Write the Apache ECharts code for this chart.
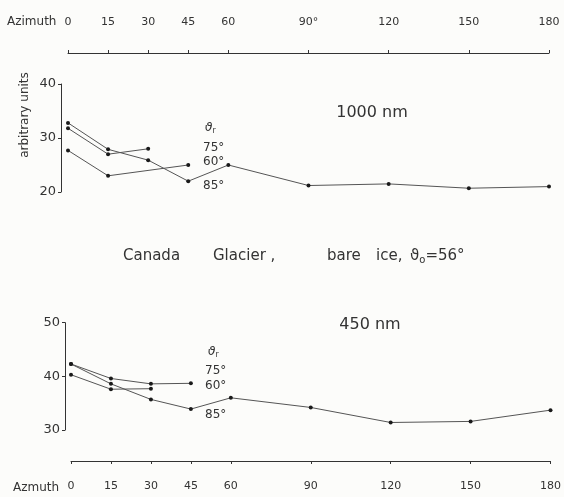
<!DOCTYPE html>
<html><head><meta charset="utf-8">
<script src="https://cdn.jsdelivr.net/npm/echarts@6/dist/echarts.min.js"></script>
<style>html,body{margin:0;padding:0;background:#fcfcfa}#c{width:564px;height:497px}</style>
</head><body><div id="c"></div>
<script>
// ---- data ----
const azimuthTicks = [0, 15, 30, 45, 60, 90, 120, 150, 180];
const topTickLabels = ['0', '15', '30', '45', '60', '90°', '120', '150', '180'];
const bottomTickLabels = ['0', '15', '30', '45', '60', '90', '120', '150', '180'];
const az85 = [0, 15, 30, 45, 60, 90, 120, 150, 180];
const az75 = [0, 15, 30];
const az60Top = [0, 15, 45];
const az60Bottom = [0, 15, 30, 45];
const nm1000_85 = [32.8, 27.9, 25.9, 22.0, 25.0, 21.2, 21.5, 20.7, 21.0];
const nm1000_75 = [31.8, 27.0, 28.0];
const nm1000_60 = [27.7, 23.0, 25.0];
const nm450_85 = [42.3, 38.6, 35.7, 33.9, 36.0, 34.2, 31.4, 31.6, 33.7];
const nm450_75 = [40.3, 37.6, 37.7];
const nm450_60 = [42.3, 39.6, 38.6, 38.7];
const thetaLabels = ['75°', '60°', '85°'];

const ink = '#333';
const lineInk = '#555';
const FONT = 'DejaVu Sans';
const pairs = (xs, ys) => xs.map((x, i) => [x, ys[i]]);

function lineSeries(name, xs, ys, gi) {
  return {
    name, type: 'line', xAxisIndex: gi, yAxisIndex: gi,
    data: pairs(xs, ys), symbol: 'circle', symbolSize: 4, showSymbol: true,
    itemStyle: { color: '#1a1a1a' },
    lineStyle: { color: lineInk, width: 1 },
    silent: true
  };
}

function xAxisCfg(gi, pos, labels, margin) {
  return {
    type: 'value', gridIndex: gi, position: pos, offset: 31, min: 0, max: 180,
    axisLine: { show: true, onZero: false, lineStyle: { color: ink, width: 1 } },
    axisTick: { show: true, length: 3, customValues: azimuthTicks, lineStyle: { color: ink } },
    axisLabel: {
      customValues: azimuthTicks, margin, color: ink, fontFamily: FONT, fontSize: 11,
      formatter: v => labels[azimuthTicks.indexOf(v)]
    },
    splitLine: { show: false }
  };
}
function yAxisCfg(gi, min, max, off) {
  return {
    type: 'value', gridIndex: gi, min, max, interval: 10, offset: off, position: 'left',
    axisLine: { show: true, onZero: false, lineStyle: { color: ink, width: 1 } },
    axisTick: { show: true, length: 3, lineStyle: { color: ink } },
    axisLabel: { color: ink, fontFamily: FONT, fontSize: 13, margin: 5 },
    splitLine: { show: false }
  };
}

function txt(text, x, y, size, align) {
  return { type: 'text', x, y, style: { text, font: size + 'px "' + FONT + '"', fill: ink, textAlign: align || 'left', textVerticalAlign: 'middle' } };
}
function theta(x, y) {
  return { type: 'text', x, y, style: {
    text: '{a|ϑ}{s|r}', textAlign: 'left', textVerticalAlign: 'middle',
    rich: { a: { fontFamily: FONT, fontSize: 12, fill: ink, fontStyle: 'italic' }, s: { fontFamily: FONT, fontSize: 8, fill: ink, verticalAlign: 'bottom', padding: [6, 0, 0, 0] } }
  } };
}

const chart = echarts.init(document.getElementById('c'), null, { renderer: 'canvas' });
chart.setOption({
  animation: false,
  backgroundColor: '#fcfcfa',
  grid: [
    { left: 68, right: 15, top: 84, height: 108 },
    { left: 71, right: 8.5, top: 322.7, height: 107.3 }
  ],
  xAxis: [xAxisCfg(0, 'top', topTickLabels, 25), xAxisCfg(1, 'bottom', bottomTickLabels, 20)],
  yAxis: [yAxisCfg(0, 20, 40, 7), yAxisCfg(1, 30, 50, 6)],
  series: [
    lineSeries('1000 nm 85°', az85, nm1000_85, 0),
    lineSeries('1000 nm 75°', az75, nm1000_75, 0),
    lineSeries('1000 nm 60°', az60Top, nm1000_60, 0),
    lineSeries('450 nm 85°', az85, nm450_85, 1),
    lineSeries('450 nm 75°', az75, nm450_75, 1),
    lineSeries('450 nm 60°', az60Bottom, nm450_60, 1)
  ],
  graphic: [
    txt('Azimuth', 7, 22, 12),
    txt('Azmuth', 13, 488, 12),
    { type: 'text', x: 25, y: 115, rotation: Math.PI / 2, style: { text: 'arbitrary units', font: '12px "' + FONT + '"', fill: ink, textAlign: 'center', textVerticalAlign: 'middle' } },
    txt('1000 nm', 372, 113, 16, 'center'),
    txt('450 nm', 370, 325, 16, 'center'),
    txt('Canada', 123, 256, 15),
    txt('Glacier ,', 213, 256, 15),
    txt('bare', 327, 256, 15),
    txt('ice,', 376, 256, 15),
    { type: 'text', x: 410, y: 256, style: { text: '{a|ϑ}{s|o}{a|=56°}', textAlign: 'left', textVerticalAlign: 'middle',
      rich: { a: { fontFamily: FONT, fontSize: 15, fill: ink }, s: { fontFamily: FONT, fontSize: 10, fill: ink, verticalAlign: 'bottom', padding: [8, 0, 0, 0] } } } },
    theta(205, 128),
    txt(thetaLabels[0], 203, 148, 12),
    txt(thetaLabels[1], 203, 162, 12),
    txt(thetaLabels[2], 203, 186, 12),
    theta(208, 352),
    txt(thetaLabels[0], 205, 371, 12),
    txt(thetaLabels[1], 205, 386, 12),
    txt(thetaLabels[2], 205, 415, 12)
  ]
});
</script>
</body></html>
